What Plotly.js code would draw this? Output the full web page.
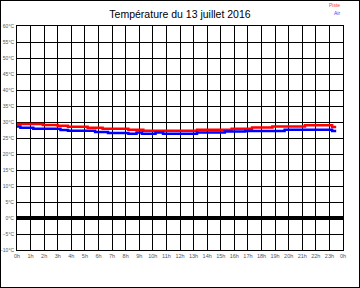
<!DOCTYPE html>
<html>
<head>
<meta charset="utf-8">
<script src="https://cdn.plot.ly/plotly-3.0.1.min.js"></script>
<style>
html,body{margin:0;padding:0;background:#fff;}
#frame{width:358px;height:286px;border:1px solid #000;}
</style>
</head>
<body>
<div id="frame"><div id="chart" style="width:358px;height:286px;"></div></div>
<script>
const titleText = "Température du 13 juillet 2016";
const pisteTimes = [0, 1.9, 3.0, 3.75, 5.2, 6.3, 8.2, 9.3, 13.25, 15.8, 17.3, 18.8, 21.2, 23.2, 23.5];
const pisteValues = [29.4, 29.1, 28.8, 28.5, 28.2, 27.9, 27.6, 27.3, 27.6, 27.9, 28.3, 28.6, 29.0, 28.4, 28.4];
const airTimes = [0, 0.25, 1.2, 3.2, 3.75, 5.75, 6.7, 8.2, 8.8, 9.2, 10.2, 10.75, 13.25, 15.3, 16.8, 19.7, 23.2, 23.5];
const airValues = [28.6, 28.2, 27.9, 27.5, 27.3, 26.9, 26.6, 26.3, 26.7, 26.3, 26.7, 26.3, 26.7, 27.0, 27.2, 27.6, 27.2, 27.2];
const hourTicks = [0,1,2,3,4,5,6,7,8,9,10,11,12,13,14,15,16,17,18,19,20,21,22,23,24];
const hourLabels = ["0h","1h","2h","3h","4h","5h","6h","7h","8h","9h","10h","11h","12h","13h","14h","15h","16h","17h","18h","19h","20h","21h","22h","23h","0h"];
const legendNames = ["Piste", "Air"];

const traces = [
  {x: pisteTimes, y: pisteValues, mode: "lines", line: {shape: "hv", color: "#ff0000", width: 2.5}, name: legendNames[0], hoverinfo: "skip"},
  {x: airTimes, y: airValues, mode: "lines", line: {shape: "hv", color: "#0000ff", width: 2.5}, name: legendNames[1], hoverinfo: "skip"}
];

const layout = {
  width: 358, height: 286,
  margin: {l: 16, r: 16, t: 25, b: 37},
  paper_bgcolor: "#fff", plot_bgcolor: "#fff",
  showlegend: false,
  font: {family: "Liberation Sans, Arial, sans-serif", color: "#444", size: 6},
  title: {text: titleText, x: 0.5, xanchor: "center", y: 0.953, yanchor: "middle", font: {size: 10.5, color: "#000", family: "Liberation Sans, Arial, sans-serif"}},
  xaxis: {
    range: [0, 24], tickvals: hourTicks, ticktext: hourLabels,
    showgrid: true, gridcolor: "#000", gridwidth: 1,
    showline: true, mirror: true, linecolor: "#000", linewidth: 1,
    zeroline: false, ticks: "", fixedrange: true,
    tickfont: {size: 5.5, color: "#555"}
  },
  yaxis: {
    range: [-10, 60], dtick: 5, tick0: 0, ticksuffix: "°C",
    showgrid: true, gridcolor: "#000", gridwidth: 1,
    showline: true, mirror: true, linecolor: "#000", linewidth: 1,
    zeroline: true, zerolinecolor: "#000", zerolinewidth: 4,
    ticks: "", fixedrange: true, ticklabelstandoff: 1,
    tickfont: {size: 5, color: "#555"}
  },
  annotations: [
    {text: legendNames[0], xref: "paper", yref: "paper", x: 0.997, y: 1.092, xanchor: "right", yanchor: "middle", showarrow: false, font: {size: 5, color: "#ff4040"}},
    {text: legendNames[1], xref: "paper", yref: "paper", x: 0.997, y: 1.057, xanchor: "right", yanchor: "middle", showarrow: false, font: {size: 5, color: "#4040ff"}}
  ]
};

Plotly.newPlot("chart", traces, layout, {staticPlot: true, displayModeBar: false});
</script>
</body>
</html>
